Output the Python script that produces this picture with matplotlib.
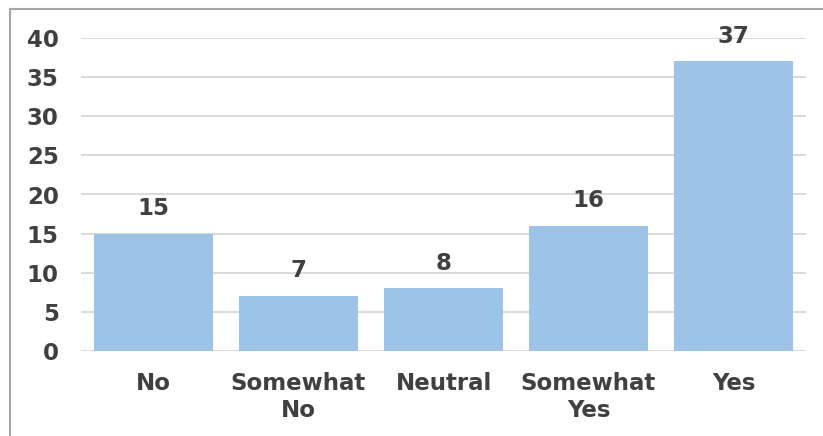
import matplotlib.pyplot as plt
from matplotlib.lines import Line2D

# Survey responses
categories = ["No", "Somewhat\nNo", "Neutral", "Somewhat\nYes", "Yes"]
counts = [15, 7, 8, 16, 37]
y_ticks = [0, 5, 10, 15, 20, 25, 30, 35, 40]

BAR_COLOR = "#9DC3E6"
TEXT_COLOR = "#404040"
GRID_COLOR = "#D9D9D9"
FONT_SIZE = 16.5

plt.rcParams['font.family'] = ['DejaVu Sans']
plt.rcParams['font.weight'] = 'bold'

fig = plt.figure(figsize=(8.23, 4.36), dpi=100)
ax = fig.add_axes([81 / 823, 1 - 351 / 436, (806 - 81) / 823, (351 - 38) / 436])

x = range(len(categories))
bars = ax.bar(x, counts, width=0.82, color=BAR_COLOR, zorder=2)

# Value labels above each bar
for bar, val in zip(bars, counts):
    ax.annotate(str(val), (bar.get_x() + bar.get_width() / 2, val),
                xytext=(0, 10), textcoords="offset points",
                ha="center", va="bottom", fontsize=FONT_SIZE, color=TEXT_COLOR,
                fontweight="bold", annotation_clip=False)

ax.set_xlim(-0.5, len(categories) - 0.5)
ax.set_ylim(0, 40)
ax.set_yticks(y_ticks)
ax.set_xticks(list(x))
ax.set_xticklabels(categories, fontsize=FONT_SIZE, color=TEXT_COLOR,
                   fontweight="bold", linespacing=1.25)
ax.tick_params(axis="y", labelsize=FONT_SIZE, labelcolor=TEXT_COLOR, length=0, pad=16)
ax.tick_params(axis="x", length=0, pad=15)

ax.grid(axis="y", color=GRID_COLOR, linewidth=1.4, zorder=0)
ax.set_axisbelow(True)
for side in ["top", "right", "left", "bottom"]:
    ax.spines[side].set_visible(False)

# Partial frame around the figure (left and top edges)
top_y = 1 - 9 / 436
left_x = 10 / 823
fig.add_artist(Line2D([left_x, left_x], [0, top_y], color="#A6A6A6", linewidth=1.5))
fig.add_artist(Line2D([left_x, 1], [top_y, top_y], color="#A6A6A6", linewidth=1.5))

fig.savefig("out.png", dpi=100)
